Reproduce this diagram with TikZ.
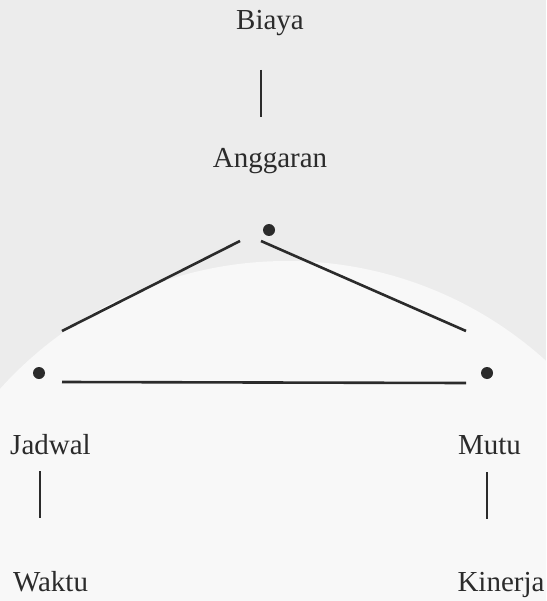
\documentclass[tikz,border=0pt]{standalone}
\usepackage{fontspec}
\setmainfont{Liberation Serif}
\begin{document}
\begin{tikzpicture}[x=1pt,y=-1pt,
  lbl/.style={anchor=base,inner sep=0pt,text=ink,font=\fontsize{29}{32}\selectfont},
  dotnode/.style={circle,fill=ink,inner sep=0pt,minimum size=12pt},
  ln/.style={draw=ink,line width=2.6pt},
  vln/.style={draw=ink,line width=2pt}]
\definecolor{ink}{HTML}{2B2B2B}
\definecolor{bggray}{HTML}{ECECEC}
\definecolor{bglight}{HTML}{F8F8F8}
% background
\fill[bggray] (0,0) rectangle (546,601);
\begin{scope}
\clip (0,0) rectangle (546,601);
\fill[bglight] (287,647) circle[radius=386pt];
\end{scope}
\useasboundingbox (0,0) rectangle (546,601);
% labels
\node[lbl] (biaya) at (270,30) {Biaya};
\node[lbl] (anggaran) at (270,168) {Anggaran};
\node[lbl] (jadwal) at (50.5,454) {Jadwal};
\node[lbl] (mutu) at (489.5,454) {Mutu};
\node[lbl] (waktu) at (50.5,591) {Waktu};
\node[lbl] (kinerja) at (501,591) {Kinerja};
% dots
\node[dotnode] (dtop) at (269,230) {};
\node[dotnode] (dleft) at (39,373) {};
\node[dotnode] (dright) at (487,373) {};
% connector end points
\coordinate (v1a) at (261,70);
\coordinate (v1b) at (261,117);
\coordinate (sla) at (240,241);
\coordinate (slb) at (62,331);
\coordinate (sra) at (261,241);
\coordinate (srb) at (466,331);
\coordinate (ha) at (62,382);
\coordinate (hb) at (466,383);
\coordinate (v2a) at (40,471);
\coordinate (v2b) at (40,518);
\coordinate (v3a) at (487,472);
\coordinate (v3b) at (487,519);
% connectors
\draw[vln] (v1a) -- (v1b);
\draw[ln] (sla) -- (slb);
\draw[ln] (sra) -- (srb);
\draw[ln] (ha) -- (hb);
\draw[vln] (v2a) -- (v2b);
\draw[vln] (v3a) -- (v3b);
\end{tikzpicture}
\end{document}
